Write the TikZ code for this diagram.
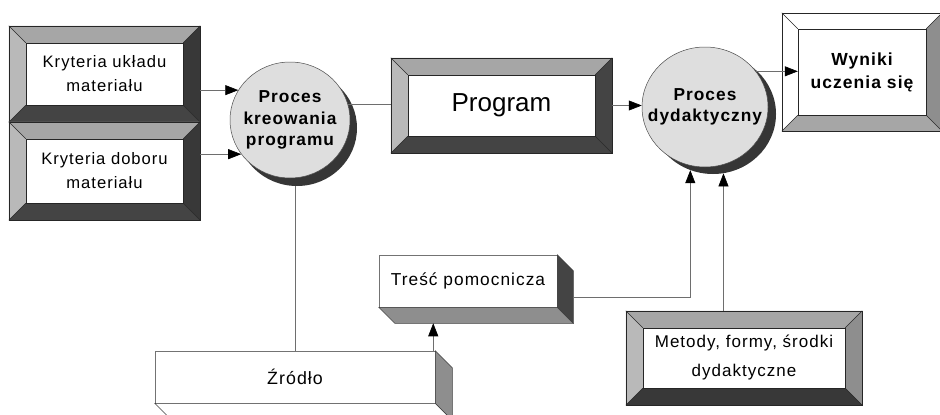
\documentclass[tikz,border=0pt]{standalone}
\usepackage{fontspec}
\setmainfont{Liberation Sans}
\newfontfamily\spaced[LetterSpace=6]{Liberation Sans}
\usetikzlibrary{arrows.meta,shapes.geometric}

\definecolor{bandA}{HTML}{B9B9B9}
\definecolor{bandB}{HTML}{A6A6A6}
\definecolor{bandC}{HTML}{8E8E8E}
\definecolor{bandD}{HTML}{444444}
\definecolor{bandE}{HTML}{383838}
\definecolor{discfill}{HTML}{DEDEDE}
\definecolor{discshade}{HTML}{363636}
\definecolor{wire}{HTML}{6E6E6E}

% bevelled frame around a rectangular node: #1 node, #2 band width,
% #3 top, #4 left, #5 right, #6 bottom band colours
\newcommand\bevelframe[6]{%
  \fill[#3] (#1.north west) -- (#1.north east) -- ([shift={(-#2,-#2)}]#1.north east) -- ([shift={(#2,-#2)}]#1.north west) -- cycle;
  \fill[#4] (#1.north west) -- ([shift={(#2,-#2)}]#1.north west) -- ([shift={(#2,#2)}]#1.south west) -- (#1.south west) -- cycle;
  \fill[#5] (#1.north east) -- (#1.south east) -- ([shift={(-#2,#2)}]#1.south east) -- ([shift={(-#2,-#2)}]#1.north east) -- cycle;
  \fill[#6] (#1.south west) -- ([shift={(#2,#2)}]#1.south west) -- ([shift={(-#2,#2)}]#1.south east) -- (#1.south east) -- cycle;
  \draw[frameedge] (#1.north west) rectangle (#1.south east);
  \draw[frameedge] ([shift={(#2,-#2)}]#1.north west) rectangle ([shift={(-#2,#2)}]#1.south east);
  \draw[frameedge] (#1.north west) -- ([shift={(#2,-#2)}]#1.north west);
  \draw[frameedge] (#1.north east) -- ([shift={(-#2,-#2)}]#1.north east);
  \draw[frameedge] (#1.south east) -- ([shift={(-#2,#2)}]#1.south east);
  \draw[frameedge] (#1.south west) -- ([shift={(#2,#2)}]#1.south west);
}

% block with depth towards the lower right: #1 node, #2 depth,
% #3 side colour, #4 bottom colour
\newcommand\slab[4]{%
  \filldraw[#4, draw=slabline, line width=0.5pt] (#1.south west) -- (#1.south east) -- ([shift={(#2,-#2)}]#1.south east) -- ([shift={(#2,-#2)}]#1.south west) -- cycle;
  \filldraw[#3, draw=slabline, line width=0.5pt] (#1.north east) -- ([shift={(#2,-#2)}]#1.north east) -- ([shift={(#2,-#2)}]#1.south east) -- (#1.south east) -- cycle;
}
\colorlet{slabline}{black!75}

\begin{document}
\begin{tikzpicture}[x=1pt,y=-1pt,
  frame/.style={rectangle, inner sep=0pt, align=center},
  frameedge/.style={draw=black!85, line width=0.5pt},
  face/.style={rectangle, inner sep=0pt, fill=white, draw=black!55, line width=0.5pt, align=center},
  disc/.style={ellipse, inner sep=0pt, fill=discfill, draw=black!70, line width=0.5pt},
  discshadow/.style={ellipse, inner sep=0pt, fill=discshade, draw=none},
  disclabel/.style={align=center, font=\spaced\bfseries\fontsize{17.3}{21.5}\selectfont},
  txt/.style={font=\spaced\fontsize{16.6}{24}\selectfont},
  conn/.style={draw=wire, line width=0.6pt},
  arr/.style={-{Triangle[length=13pt,width=10pt,color=black]}}
]
\useasboundingbox (0,0) rectangle (940,415);

% discs with their drop shadows
\node[discshadow, minimum width=120pt, minimum height=116pt] (c1s) at (297,128) {};
\node[disc, minimum width=120pt, minimum height=116pt,
  label={[disclabel]center:Proces\\kreowania\\programu}] (c1) at (290,120) {};
\node[discshadow, minimum width=126pt, minimum height=120pt] (c2s) at (713,114) {};
\node[disc, minimum width=126pt, minimum height=120pt,
  label={[disclabel]center:Proces\\dydaktyczny}] (c2) at (705,107) {};

% bevelled frames
\node[frame, minimum width=191pt, minimum height=96pt, txt] (k1) at (104.5,74) {Kryteria układu\\materiału};
\bevelframe{k1}{17pt}{bandB}{bandA}{bandE}{bandD}
\node[frame, minimum width=191pt, minimum height=98pt, txt] (k2) at (104.5,171) {Kryteria doboru\\materiału};
\bevelframe{k2}{17pt}{bandB}{bandA}{bandE}{bandD}

\node[frame, minimum width=221pt, minimum height=95pt, font=\fontsize{26}{30}\selectfont] (p) at (501.5,105.5) {Program};
\bevelframe{p}{17pt}{bandB}{bandA}{bandD}{bandD}

\node[frame, minimum width=160pt, minimum height=118pt, font=\spaced\bfseries\fontsize{17.5}{23}\selectfont] (w) at (862,72) {Wyniki\\uczenia się};
\bevelframe{w}{16pt}{white}{white}{bandC}{bandB}

\node[frame, minimum width=236pt, minimum height=94pt, font=\spaced\fontsize{17}{29}\selectfont] (m) at (744,358) {Metody, formy, środki\\dydaktyczne};
\bevelframe{m}{17pt}{bandB}{bandA}{bandC}{bandE}

% blocks with depth
\node[face, minimum width=178pt, minimum height=52pt, font=\spaced\fontsize{17.3}{20}\selectfont] (t) at (468,281) {Treść pomocnicza};
\slab{t}{16pt}{bandD}{bandC}
\node[face, minimum width=280pt, minimum height=52pt, font=\spaced\fontsize{17.8}{20}\selectfont] (z) at (295,377) {Źródło};
\slab{z}{17pt}{bandC}{white}

% connectors
\draw[conn, arr] (k1.east |- c1.150) -- (c1.150);
\draw[conn, arr] (k2.east |- c1.215) -- (c1.215);
\draw[conn] (c1.15) -- (c1.15 -| p.west);
\draw[conn, arr] (p.east) -- (p.east -| c2.west);
\coordinate (win) at ([xshift=16pt]w.west);
\draw[conn, arr] (c2.35) -- (win |- c2.35);
\coordinate (tside) at ([shift={(16pt,-16pt)}]t.east);
\draw[conn, arr] (tside) -| (c2s.248);
\draw[conn, arr] (m.north -| c2s.280) -- (c2s.280);
\draw[conn] (z.north) -- (z.north |- c1s.south);
\coordinate (tbase) at ([yshift=-16pt]t.south);
\coordinate (ztop) at ([xshift=-2pt]z.north east);
\draw[conn, arr] (ztop) -- (ztop |- tbase);
\end{tikzpicture}
\end{document}
